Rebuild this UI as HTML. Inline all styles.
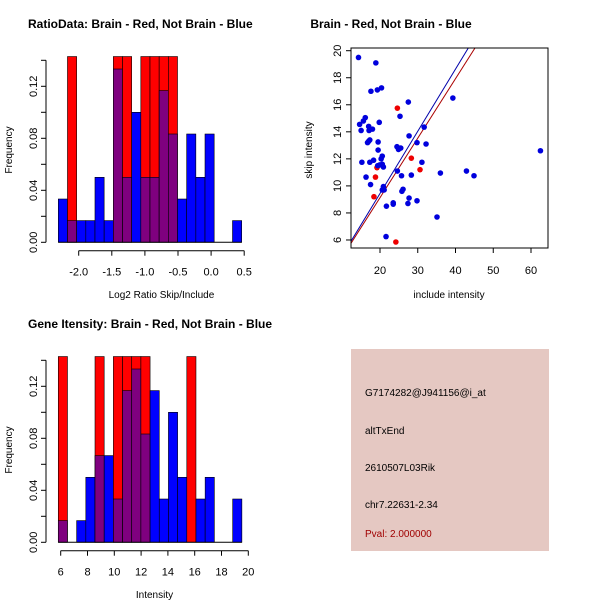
<!DOCTYPE html>
<html><head><meta charset="utf-8"><style>
body{margin:0;background:#fff;}
svg{display:block;font-family:"Liberation Sans",sans-serif;}
</style></head><body>
<svg id="c" width="600" height="600"></svg>
<script>
// ---- data ----
const ratioBlue=[0.0333,0.0167,0.0167,0.0167,0.05,0.0167,0.1333,0.05,0.1,0.05,0.05,0.1167,0.0833,0.0333,0.0833,0.05,0.0833,0,0,0.0167];
const ratioRed=[0,0.1429,0,0,0,0,0.1429,0.1429,0,0.1429,0.1429,0.1429,0.1429,0,0,0,0,0,0,0];
const ratioStart=-2.308, ratioBinW=0.1385;
const ratioXTicks=[-2.0,-1.5,-1.0,-0.5,0.0,0.5];
const histYTicks=[0,0.02,0.04,0.06,0.08,0.10,0.12,0.14];
const histYLabels=["0.00","0.04","0.08","0.12"];
const intBlue=[0.0167,0,0.0167,0.05,0.0667,0.0667,0.0333,0.1167,0.1333,0.0833,0.1167,0.0333,0.1,0.05,0,0.0333,0.05,0,0,0.0333];
const intRed=[0.1429,0,0,0,0.1429,0,0.1429,0.1429,0.1429,0.1429,0,0,0,0,0.1429,0,0,0,0,0];
const intStart=5.82, intBinW=0.685;
const intXTicks=[6,8,10,12,14,16,18,20];
const scBlueX=[14.3,18.9,17.6,19.3,20.4,27.5,39.3,16.1,15.6,14.6,19.8,25.3,15.0,17.0,17.1,18.0,31.7,17.0,17.3,16.7,19.5,27.7,29.8,32.2,19.5,24.5,25.5,24.9,20.6,20.3,15.2,17.3,18.3,19.4,19.9,20.6,20.9,31.1,24.6,16.3,17.5,25.7,28.3,36.0,42.9,44.9,62.5,20.9,20.6,21.1,26.1,25.8,27.7,21.7,23.5,23.5,27.4,29.8,35.1,21.6];
const scBlueY=[19.5,19.1,17.0,17.1,17.25,16.2,16.5,15.05,14.8,14.55,14.7,15.15,14.1,14.4,14.1,14.2,14.35,13.3,13.4,13.2,13.25,13.7,13.2,13.1,12.65,12.9,12.8,12.7,12.2,12.0,11.75,11.75,11.9,11.5,11.55,11.6,11.4,11.75,11.1,10.65,10.1,10.75,10.8,10.95,11.1,10.75,12.6,9.95,9.7,9.7,9.75,9.6,9.1,8.5,8.75,8.65,8.7,8.9,7.7,6.25];
const scRedX=[24.6,28.3,30.6,18.8,18.4,24.2,19.2];
const scRedY=[15.75,12.05,11.2,10.65,9.2,5.85,11.35];
const fitBlue=[0.24,0.46]; // intercept, slope
const fitRed=[0.33,0.44];
const scXTicks=[20,30,40,50,60];
const scYTicks=[6,8,10,12,14,16,18,20];

const svg=document.getElementById('c');
const NS='http://www.w3.org/2000/svg';
function mk(tag,at,parent){const e=document.createElementNS(NS,tag);for(const k in at)e.setAttribute(k,at[k]);(parent||svg).appendChild(e);return e;}
function txt(s,x,y,at,parent){const e=mk('text',Object.assign({x:x,y:y},at),parent);e.textContent=s;return e;}

// ---- histogram ----
function hist(name,top,blue,red,start,bw,xt,xlab,title,ticksDecimals){
  const g=mk('g',{});
  
  
  const xfun=name==='ratio-histogram'?(v=>78.7+(v+2.0)*66.2):(v=>60.7+(v-6)*13.4);
  const y0=top+242.3, ys=v=>y0-v*1300;
  for(let i=0;i<blue.length;i++){
    const x1=xfun(start+i*bw), x2=xfun(start+(i+1)*bw);
    const r=red[i], b=blue[i], m=Math.min(r,b);
    if(r>0){const e=mk('rect',{x:x1,y:ys(r),width:x2-x1,height:y0-ys(r),fill:'#ff0000',stroke:'#000','stroke-width':0.6},g);
      }
    if(b>r){const e=mk('rect',{x:x1,y:ys(b),width:x2-x1,height:ys(m)-ys(b),fill:'#0000ff',stroke:'#000','stroke-width':0.6},g);
      }
    if(m>0){const e=mk('rect',{x:x1,y:ys(m),width:x2-x1,height:y0-ys(m),fill:'#7f007f',stroke:'#000','stroke-width':0.6},g);
      }
  }
  mk('line',{x1:xfun(start),x2:xfun(start+blue.length*bw),y1:y0,y2:y0,stroke:'#000'},g);
  const ax=46;
  mk('line',{x1:ax,x2:ax,y1:ys(0),y2:ys(0.14),stroke:'#000'},g);
  histYTicks.forEach(v=>mk('line',{x1:ax-5,x2:ax,y1:ys(v),y2:ys(v),stroke:'#000'},g));
  histYLabels.forEach(s=>{const v=parseFloat(s);txt(s,37,ys(v),{'font-size':11,'text-anchor':'middle',transform:`rotate(-90 37 ${ys(v)})`},g);});
  const xa=top+250.7;
  mk('line',{x1:xfun(xt[0]),x2:xfun(xt[xt.length-1]),y1:xa,y2:xa,stroke:'#000'},g);
  xt.forEach(v=>{mk('line',{x1:xfun(v),x2:xfun(v),y1:xa,y2:xa+5,stroke:'#000'},g);
    txt(ticksDecimals?v.toFixed(1):String(v),xfun(v),xa+25,{'font-size':11,'text-anchor':'middle'},g);});
  txt(xlab,xfun((xt[0]+xt[xt.length-1])/2),top+298,{'font-size':10,'text-anchor':'middle'},g);
  txt('Frequency',12,top+150,{'font-size':10,'text-anchor':'middle',transform:`rotate(-90 12 ${top+150})`},g);
  txt(title,28,top+28,{'font-size':12,'font-weight':'bold'},g);
}
hist('ratio-histogram',0,ratioBlue,ratioRed,ratioStart,ratioBinW,ratioXTicks,'Log2 Ratio Skip/Include','RatioData: Brain - Red, Not Brain - Blue',true);
hist('intensity-histogram',300,intBlue,intRed,intStart,intBinW,intXTicks,'Intensity','Gene Itensity: Brain - Red, Not Brain - Blue',false);

// ---- scatter ----
const sg=mk('g',{});


const sx=v=>380+(v-20)*3.775, sy=v=>50.7+(20-v)*13.52;
const clip=mk('clipPath',{id:'sc'},sg);mk('rect',{x:351,y:48,width:197,height:200},clip);
[[fitBlue,'#0000aa'],[fitRed,'#aa0000']].forEach(([f,c])=>{
  const l=mk('line',{x1:sx(5),y1:sy(f[0]+f[1]*5),x2:sx(70),y2:sy(f[0]+f[1]*70),stroke:c,'stroke-width':1,'clip-path':'url(#sc)'},sg);
  });
scRedX.forEach((x,i)=>{const c=mk('circle',{cx:sx(x),cy:sy(scRedY[i]),r:2.8,fill:'#ee0000'},sg);
  });
scBlueX.forEach((x,i)=>{const c=mk('circle',{cx:sx(x),cy:sy(scBlueY[i]),r:2.8,fill:'#0000dd'},sg);
  });
mk('rect',{x:351,y:48,width:197,height:200,fill:'none',stroke:'#000'},sg);
scXTicks.forEach(v=>{mk('line',{x1:sx(v),x2:sx(v),y1:248,y2:253,stroke:'#000'},sg);
  txt(String(v),sx(v),274,{'font-size':11,'text-anchor':'middle'},sg);});
scYTicks.forEach(v=>{mk('line',{x1:346,x2:351,y1:sy(v),y2:sy(v),stroke:'#000'},sg);
  txt(String(v),341,sy(v),{'font-size':11,'text-anchor':'middle',transform:`rotate(-90 341 ${sy(v)})`},sg);});
txt('include intensity',449,298,{'font-size':10,'text-anchor':'middle'},sg);
txt('skip intensity',312,150,{'font-size':10,'text-anchor':'middle',transform:'rotate(-90 312 150)'},sg);
txt('Brain - Red, Not Brain - Blue',391,28,{'font-size':12,'font-weight':'bold','text-anchor':'middle'},sg);

// ---- info panel ----
const pg=mk('g',{});


mk('rect',{x:351,y:349,width:198,height:202,fill:'#e5c8c2'},pg);
[['G7174282@J941156@i_at',396,'#000'],['altTxEnd',434,'#000'],['2610507L03Rik',471,'#000'],['chr7.22631-2.34',508,'#000'],['Pval: 2.000000',537,'#a00000']].forEach(t=>{
  const e=txt(t[0],365,t[1],{'font-size':10,fill:t[2]},pg);
  });
</script>
</body></html>
